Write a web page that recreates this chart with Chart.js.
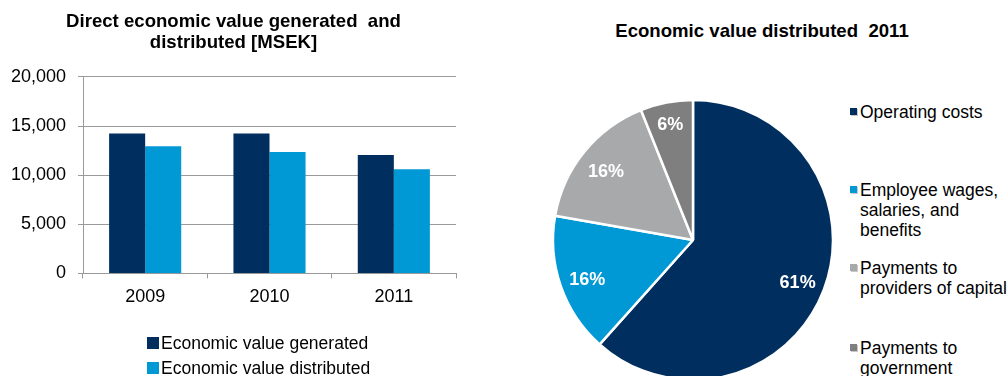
<!DOCTYPE html>
<html>
<head>
<meta charset="utf-8">
<script src="https://cdn.jsdelivr.net/npm/chart.js@4.4.1/dist/chart.umd.min.js"></script>
<style>
 body {
  margin: 0;
  width: 1008px;
  height: 376px;
  overflow: hidden;
  background: #fff;
  position: relative;
  font-family: "Liberation Sans", Arial, sans-serif;
  color: #000;
 }
 #barChart { position: absolute; left: 0; top: 0; }
 #pieChart { position: absolute; left: 543px; top: 90px; }
 .pieTitle {
  position: absolute;
  left: 562px;
  width: 400px;
  top: 20px;
  text-align: center;
  font-weight: bold;
  font-size: 18.6px;
  line-height: 22px;
 }
 .leg {
  position: absolute;
  font-size: 17.5px;
  line-height: 20px;
  white-space: nowrap;
 }
 .leg .box {
  position: absolute;
 }
</style>
</head>
<body>
<canvas id="barChart" width="480" height="376"></canvas>
<canvas id="pieChart" width="300" height="300"></canvas>
<div class="pieTitle">Economic value distributed&nbsp; 2011</div>
<div id="barLegend"></div>
<div id="pieLegend"></div>
<script>
var barTitle = ["Direct economic value generated  and", "distributed [MSEK]"];
var years = ["2009", "2010", "2011"];
var seriesNames = ["Economic value generated", "Economic value distributed"];
var generated = [14250, 14250, 12050];
var distributed = [12950, 12350, 10600];

var pieLabels = [
 ["Operating costs"],
 ["Employee wages,", "salaries, and", "benefits"],
 ["Payments to", "providers of capital"],
 ["Payments to", "government"],
];
var pieValues = [61, 16, 16, 6];

var navy = "#002f5f";
var blue = "#0099d5";
var barColors = [navy, blue];
var pieColors = [navy, blue, "#a7a9ab", "#7f7f7f"];
var gridColor = "#9a9a9a";
var fontFamily = "'Liberation Sans', Arial, sans-serif";

// ----------------- bar chart -----------------

new Chart(document.querySelector("#barChart"), {
 type: "bar",
 data: {
  labels: years,
  datasets: [
   {
    label: seriesNames[0],
    data: generated,
    backgroundColor: barColors[0],
    borderWidth: 0,
   },
   {
    label: seriesNames[1],
    data: distributed,
    backgroundColor: barColors[1],
    borderWidth: 0,
   },
  ],
 },
 options: {
  responsive: false,
  animation: false,
  layout: {
   padding: { left: 11, right: 24, top: 0, bottom: 60 },
  },
  datasets: {
   bar: { categoryPercentage: 0.58, barPercentage: 1 },
  },
  plugins: {
   legend: { display: false },
   tooltip: { enabled: false },
   title: {
    display: true,
    text: barTitle,
    color: "#000",
    font: { family: fontFamily, size: 18.6, weight: "bold", lineHeight: 1.13 },
    padding: { top: 11.5, bottom: 23.4 },
   },
  },
  scales: {
   x: {
    grid: {
     drawOnChartArea: false,
     color: gridColor,
     tickLength: 5,
    },
    border: { color: gridColor },
    ticks: {
     color: "#000",
     font: { family: fontFamily, size: 18 },
     padding: 8,
    },
   },
   y: {
    min: 0,
    max: 20000,
    afterFit: function (scale) {
     scale.width = 72;
    },
    grid: { color: gridColor, tickLength: 5 },
    border: { color: gridColor },
    ticks: {
     stepSize: 5000,
     color: "#000",
     padding: 12,
     font: { family: fontFamily, size: 18 },
     callback: function (value) {
      return value.toLocaleString("en-US");
     },
    },
   },
  },
 },
});

var barLegend = document.querySelector("#barLegend");
seriesNames.forEach(function (name, i) {
 var item = document.createElement("div");
 item.className = "leg";
 item.style.left = "161px";
 item.style.top = 333 + i * 25 + "px";
 item.innerHTML =
  '<span class="box" style="left:-14px;top:4px;width:12px;height:12px;background:' +
  barColors[i] + '"></span>' + name;
 barLegend.appendChild(item);
});

// ----------------- pie chart -----------------

var pieValueLabels = {
 id: "pieValueLabels",
 afterDatasetsDraw: function (chart) {
  var ctx = chart.ctx;
  var meta = chart.getDatasetMeta(0);
  var total = pieValues.reduce(function (a, b) { return a + b; }, 0);
  ctx.save();
  ctx.fillStyle = "#fff";
  ctx.font = "bold 18px " + fontFamily;
  ctx.textAlign = "center";
  ctx.textBaseline = "middle";
  meta.data.forEach(function (arc, i) {
   var p = arc.getProps(["x", "y", "startAngle", "endAngle", "outerRadius"]);
   var mid = (p.startAngle + p.endAngle) / 2;
   var k = pieValues[i] / total < 0.1 ? 0.86 : 0.8;
   ctx.fillText(
    pieValues[i] + "%",
    p.x + Math.cos(mid) * p.outerRadius * k,
    p.y + Math.sin(mid) * p.outerRadius * k + 3
   );
  });
  ctx.restore();
 },
};

new Chart(document.querySelector("#pieChart"), {
 type: "pie",
 data: {
  labels: pieLabels.map(function (l) { return l.join(" "); }),
  datasets: [
   {
    data: pieValues,
    backgroundColor: pieColors,
    borderColor: "#fff",
    borderWidth: 2.5,
    radius: 140,
   },
  ],
 },
 options: {
  responsive: false,
  animation: false,
  plugins: {
   legend: { display: false },
   tooltip: { enabled: false },
  },
 },
 plugins: [pieValueLabels],
});

var pieLegend = document.querySelector("#pieLegend");
var pieLegendTops = [102, 180, 258, 338];
pieLabels.forEach(function (lines, i) {
 var item = document.createElement("div");
 item.className = "leg";
 item.style.left = "860px";
 item.style.top = pieLegendTops[i] + "px";
 item.innerHTML =
  '<span class="box" style="left:-10px;top:6px;width:7px;height:7px;background:' +
  pieColors[i] + ';box-shadow:1px 1px 0 #c8c8c8"></span>' + lines.join("<br>");
 pieLegend.appendChild(item);
});
</script>
</body>
</html>
